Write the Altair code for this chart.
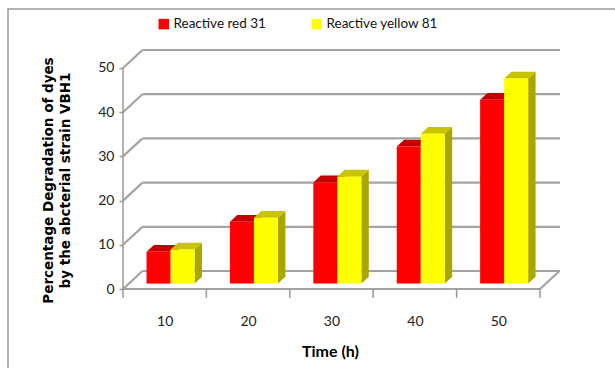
import altair as alt
import pandas as pd

# ---- data ----
times = ["10", "20", "30", "40", "50"]
red_vals = [7.2, 14.0, 22.9, 31.0, 41.6]
yellow_vals = [7.7, 14.9, 24.2, 33.9, 46.4]
series = ["Reactive red  31", "Reactive yellow 81"]
y_ticks = [0, 10, 20, 30, 40, 50]

# ---- layout constants (data units) ----
XMAX = 5.24          # plot extends past last category for the back wall
YMAX = 54.07         # back wall top
DX, DY = 0.234, 4.07 # depth of the 3D box
F_FRONT, F_DEPTH = 0.30, 0.38
BW = 0.288           # bar width per series
ox, oy = DX * F_FRONT, DY * F_FRONT
ddx, ddy = DX * F_DEPTH, DY * F_DEPTH
N = len(times)

front_rows, top_rows, side_rows = [], [], []
for ci, t in enumerate(times):
    center = ci + 0.5 + ox
    for si, (s, vals) in enumerate(zip(series, [red_vals, yellow_vals])):
        v = vals[ci]
        xl = center - BW + si * BW
        xr = xl + BW
        bid = f"c{ci}_{si}"
        front_rows.append(dict(id=bid, s=s, x=xl, x2=xr, y=oy, y2=oy + v))
        top_rows.append(dict(id=bid, s=s, y=oy + v, x=xl, x2=xr))
        top_rows.append(dict(id=bid, s=s, y=oy + v + ddy, x=xl + ddx, x2=xr + ddx))
        side_rows.append(dict(id=bid, s=s, x=xr, y=oy, y2=oy + v))
        side_rows.append(dict(id=bid, s=s, x=xr + ddx, y=oy + ddy, y2=oy + v + ddy))

front_df = pd.DataFrame(front_rows)
top_df = pd.DataFrame(top_rows)
side_df = pd.DataFrame(side_rows)

# back wall lines, diagonals to the front axis, floor edges
line_rows = []
for v in y_ticks:
    line_rows.append(dict(x=DX, x2=XMAX, y=v + DY, y2=v + DY))
    line_rows.append(dict(x=0, x2=DX, y=v, y2=v + DY))
line_rows.append(dict(x=0, x2=N, y=0, y2=0))
line_rows.append(dict(x=N, x2=N + DX, y=0, y2=DY))
lines_df = pd.DataFrame(line_rows)

axis_rows = [dict(x=0, x2=0, y=0, y2=y_ticks[-1])]
for k in range(N + 1):
    axis_rows.append(dict(x=k, x2=k, y=0, y2=-2.0))
axis_df = pd.DataFrame(axis_rows)

ytick_df = pd.DataFrame({"v": y_ticks, "x": [0] * len(y_ticks)})

xs = alt.Scale(domain=[0, XMAX], nice=False, zero=False)
ys = alt.Scale(domain=[0, YMAX], nice=False, zero=False)
GRID = "#a3a3a3"
FONT = "Lato"
TFONT = "DejaVu Sans"

x_axis = alt.Axis(values=[i + 0.5 for i in range(N)],
                  labelExpr="[" + ",".join(f"'{t}'" for t in times) + "][floor(datum.value)]",
                  ticks=False, domain=False, grid=False,
                  labelPadding=25, labelFontSize=14, labelColor="#222222",
                  labelFont=FONT,
                  title="Time (h)", titleFont=FONT, titleFontSize=16,
                  titleFontWeight="bold", titleColor="#000000",
                  titlePadding=15, titleX=207)
y_axis = alt.Axis(values=y_ticks, domain=False, grid=False, ticks=True,
                  tickColor="#999999", tickSize=4, tickWidth=1.5,
                  labelFontSize=14, labelColor="#222222", labelFont=FONT,
                  labelPadding=5,
                  title=["Percentage Degradation  of dyes",
                         "by the abcterial strain VBH1"],
                  titleFont=TFONT, titleFontSize=13.5, titleFontWeight="bold",
                  titleColor="#000000", titleLineHeight=17,
                  titleAngle=270, titleAlign="center", titleBaseline="middle",
                  titleX=-75, titleY=130)

# invisible points carrying the axes (first layer so its axis settings lead)
axes = alt.Chart(ytick_df).mark_point(opacity=0).encode(
    x=alt.X("x:Q", scale=xs, axis=x_axis),
    y=alt.Y("v:Q", scale=ys, axis=y_axis),
)

frame = alt.Chart(pd.DataFrame({"a": [0]})).mark_rect(
    fill="transparent", stroke="#9a9a9a", strokeWidth=1.5
).encode(x=alt.value(-115), x2=alt.value(520), y=alt.value(-41), y2=alt.value(340))

lines = alt.Chart(lines_df).mark_rule(color=GRID, strokeWidth=2.2).encode(
    x=alt.X("x:Q", scale=xs), x2="x2:Q",
    y=alt.Y("y:Q", scale=ys), y2="y2:Q",
)

axis_lines = alt.Chart(axis_df).mark_rule(color="#999999", strokeWidth=1.5).encode(
    x=alt.X("x:Q", scale=xs), x2="x2:Q",
    y=alt.Y("y:Q", scale=ys), y2="y2:Q",
)

sides = alt.Chart(side_df).mark_area(orient="vertical", opacity=1).encode(
    x=alt.X("x:Q", scale=xs),
    y=alt.Y("y:Q", scale=ys), y2="y2:Q",
    detail="id:N",
    color=alt.Color("s:N", scale=alt.Scale(domain=series, range=["#a80000", "#aaa600"]),
                    legend=None),
)

tops = alt.Chart(top_df).mark_area(orient="horizontal", opacity=1).encode(
    y=alt.Y("y:Q", scale=ys),
    x=alt.X("x:Q", scale=xs), x2="x2:Q",
    detail="id:N",
    color=alt.Color("s:N", scale=alt.Scale(domain=series, range=["#c40000", "#c8c400"]),
                    legend=None),
)

fronts = alt.Chart(front_df).mark_rect().encode(
    x=alt.X("x:Q", scale=xs), x2="x2:Q",
    y=alt.Y("y:Q", scale=ys), y2="y2:Q",
    color=alt.Color("s:N", scale=alt.Scale(domain=series, range=["#ff0000", "#ffff00"]),
                    legend=alt.Legend(title=None, orient="none", direction="horizontal",
                                      legendX=34, legendY=-33, symbolType="square",
                                      symbolSize=110, symbolStrokeWidth=0,
                                      labelFont=FONT, labelFontSize=13.5,
                                      labelColor="#111111", labelOffset=3,
                                      columnPadding=40, padding=0)),
)

chart = alt.layer(
    axes, frame, lines, axis_lines, sides, tops, fronts
).resolve_scale(color="independent").properties(
    width=437, height=239,
    autosize=alt.AutoSizeParams(type="none"),
    padding={"left": 123, "top": 50, "right": 55, "bottom": 79},
    background="white",
).configure_view(stroke=None)

chart.save("out.html", embed_options={"renderer": "svg", "actions": False})
